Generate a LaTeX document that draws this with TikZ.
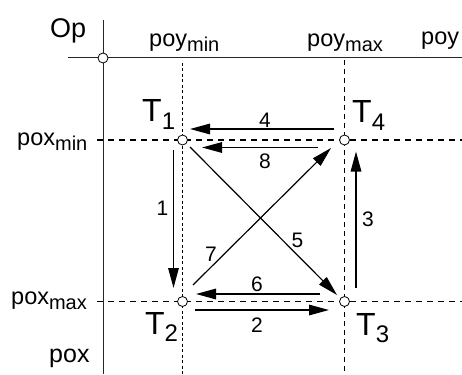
\documentclass[tikz,border=0pt]{standalone}
\usepackage{fontspec}
\setmainfont{Liberation Sans}
\usetikzlibrary{arrows.meta,calc}
\newcommand{\mainsz}{\fontsize{23.5}{27}\selectfont}
\newcommand{\subsz}{\fontsize{20}{24}\selectfont}
\newcommand{\tsz}{\fontsize{32}{36}\selectfont}
\newcommand{\tsubsz}{\fontsize{24}{28}\selectfont}
\newcommand{\numsz}{\fontsize{21}{25}\selectfont}
\newcommand{\lbl}[2]{#1\raisebox{-5pt}{\subsz #2}}
\newcommand{\tlbl}[1]{T\raisebox{-7.5pt}{\tsubsz #1}}
\tikzset{
  axisline/.style={line width=1pt, draw=black!85},
  gridA/.style={line width=1pt, dash pattern=on 6pt off 5pt},
  gridB/.style={line width=0.9pt, dash pattern=on 3pt off 2.5pt},
  gridC/.style={line width=1.2pt, dash pattern=on 5pt off 4pt},
  pt/.style={circle, draw, fill=white, line width=0.8pt, minimum size=10pt, inner sep=0pt},
  mv/.style={line width=1.5pt, -{Triangle[length=20pt,width=10.5pt]}},
  txt/.style={anchor=base west, inner sep=0pt, font=\mainsz},
  tl/.style={anchor=base west, inner sep=0pt, font=\tsz},
  num/.style={anchor=center, inner sep=0pt, font=\numsz}
}
\begin{document}
\begin{tikzpicture}[x=1pt,y=-1pt]
\useasboundingbox (0,0) rectangle (462,374);
% axes
\coordinate (ax1) at (68,58);
\coordinate (ax2) at (462,58);
\coordinate (ay1) at (103,20);
\coordinate (ay2) at (103,374);
\draw[axisline] (ax1) -- (ax2);
\draw[axisline] (ay1) -- (ay2);
% grid lines
\coordinate (gx1a) at (97,140);
\coordinate (gx1b) at (462,140);
\coordinate (gx2a) at (97,301.5);
\coordinate (gx2b) at (462,301.5);
\coordinate (gy1a) at (182.5,63);
\coordinate (gy1b) at (182.5,374);
\coordinate (gy2a) at (344.5,60);
\coordinate (gy2b) at (344.5,374);
\draw[gridA] (gx1a) -- (gx1b);
\draw[gridA] (gx2a) -- (gx2b);
\draw[gridB] (gy1a) -- (gy1b);
\draw[gridC] (gy2a) -- (gy2b);
% points
\node[pt] (Op) at (103,58) {};
\node[pt] (T1) at (182.5,140) {};
\node[pt] (T4) at (344.5,140) {};
\node[pt] (T2) at (182.5,301.5) {};
\node[pt] (T3) at (344.5,301.5) {};
% labels
\node[txt, font=\fontsize{27}{30}\selectfont] (lOp) at (50,38) {Op};
\node[txt] (lpymin) at (149,47) {\lbl{poy}{min}};
\node[txt] (lpymax) at (307,47) {\lbl{poy}{max}};
\node[txt] (lpy) at (421,45) {poy};
\node[txt] (lpxmin) at (17,146) {\lbl{pox}{min}};
\node[txt] (lpxmax) at (11,304) {\lbl{pox}{max}};
\node[txt, font=\fontsize{25}{28}\selectfont] (lpx) at (49,362) {pox};
\node[tl] (lT1) at (142,122) {\tlbl{1}};
\node[tl] (lT4) at (352,123) {\tlbl{4}};
\node[tl] (lT2) at (145,334) {\tlbl{2}};
\node[tl] (lT3) at (356,335) {\tlbl{3}};
% arrow end points
\coordinate (a4s) at ($(T4)+(-10.5,-11)$);
\coordinate (a4e) at ($(T1)+(7.5,-11)$);
\coordinate (a8s) at ($(T4)+(-26.5,7.5)$);
\coordinate (a8e) at ($(T1)+(19.5,7.5)$);
\coordinate (a1s) at ($(T1)+(-9,10)$);
\coordinate (a1e) at ($(T2)+(-9,-13.5)$);
\coordinate (a3s) at ($(T3)+(11.5,-13.5)$);
\coordinate (a3e) at ($(T4)+(11.5,11.5)$);
\coordinate (a6s) at ($(T3)+(-24.5,-7.5)$);
\coordinate (a6e) at ($(T2)+(13.5,-7.5)$);
\coordinate (a2s) at ($(T2)+(12.5,8.5)$);
\coordinate (a2e) at ($(T3)+(-15.5,8.5)$);
\coordinate (a5s) at ($(T1)+(7.5,7)$);
\coordinate (a5e) at ($(T3)+(-7.5,-6.5)$);
\coordinate (a7s) at ($(T2)+(10.5,-16.5)$);
\coordinate (a7e) at ($(T4)+(-13.5,8)$);
\draw[mv] (a4s) -- (a4e);
\draw[mv] (a8s) -- (a8e);
\draw[mv] (a1s) -- (a1e);
\draw[mv] (a3s) -- (a3e);
\draw[mv] (a6s) -- (a6e);
\draw[mv] (a2s) -- (a2e);
\draw[mv, line width=1.2pt] (a5s) -- (a5e);
\draw[mv, line width=1.2pt] (a7s) -- (a7e);
% numbers
\node[num] (n4) at (265,120) {4};
\node[num] (n8) at (265,161.5) {8};
\node[num] (n6) at (257,284.5) {6};
\node[num] (n2) at (257,325.5) {2};
\node[num] (n1) at (162.5,208.5) {1};
\node[num] (n3) at (368,219.5) {3};
\node[num] (n5) at (297.5,240.5) {5};
\node[num] (n7) at (211,254.5) {7};
\end{tikzpicture}
\end{document}
